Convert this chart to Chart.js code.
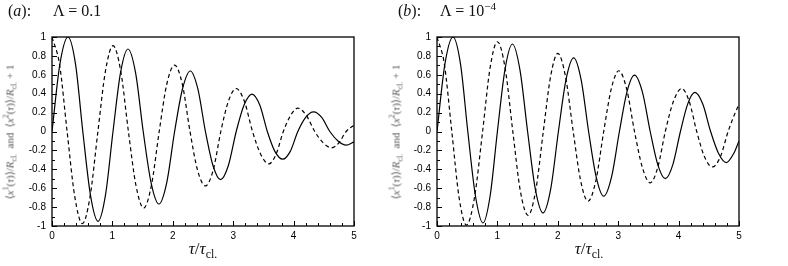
<!DOCTYPE html>
<html>
<head>
<meta charset="utf-8">
<script src="https://cdn.jsdelivr.net/npm/chart.js@4.4.1/dist/chart.umd.min.js"></script>
<style>
body { margin: 0; background: #fff; width: 788px; height: 266px; position: relative; overflow: hidden; font-family: "Liberation Serif", "Times New Roman", serif; color: #111; }
canvas { position: absolute; top: 0; }
.txt { position: absolute; white-space: nowrap; line-height: 1; }
.ttl { top: 3px; font-size: 16px; }
.xt { top: 240px; font-size: 17px; transform: translateX(-50%); }
.yt { font-size: 11px; color: #555; transform: translate(-50%, -50%) rotate(-90deg); }
sub, sup { font-size: 70%; line-height: 0; }
</style>
</head>
<body>
<canvas id="chartA" width="394" height="266" style="left:0px"></canvas>
<canvas id="chartB" width="394" height="266" style="left:385px"></canvas>

<div class="txt ttl" style="left:8px">(<i>a</i>):</div>
<div class="txt ttl" style="left:53px">Λ = 0.1</div>
<div class="txt ttl" style="left:398px">(<i>b</i>):</div>
<div class="txt ttl" style="left:440px">Λ = 10<sup>−4</sup></div>

<div class="txt xt" style="left:203px"><i>τ</i>/<i>τ</i><sub>cl.</sub></div>
<div class="txt xt" style="left:589px"><i>τ</i>/<i>τ</i><sub>cl.</sub></div>

<div class="txt yt" style="left:10px; top:132px">⟨<i>x</i><sup>1</sup>(<i>τ</i>)⟩/<i>R</i><sub>cl.</sub>&nbsp; and&nbsp; ⟨<i>x</i><sup>2</sup>(<i>τ</i>)⟩/<i>R</i><sub>cl.</sub> + 1</div>
<div class="txt yt" style="left:396px; top:132px">⟨<i>x</i><sup>1</sup>(<i>τ</i>)⟩/<i>R</i><sub>cl.</sub>&nbsp; and&nbsp; ⟨<i>x</i><sup>2</sup>(<i>τ</i>)⟩/<i>R</i><sub>cl.</sub> + 1</div>

<script>
// values: extrema, zero crossings and the points half way between

// panel (a), Lambda = 0.1
var tauSolidA = [0, 0.13, 0.265, 0.39, 0.51, 0.636, 0.762, 0.886, 1.01, 1.134, 1.258, 1.384, 1.51, 1.64, 1.77, 1.9, 2.03, 2.16, 2.29, 2.415, 2.54, 2.665, 2.79, 2.92, 3.05, 3.18, 3.31, 3.44, 3.565, 3.69, 3.82, 3.945, 4.07, 4.2, 4.33, 4.465, 4.6, 4.735, 4.87, 5];
var solidA    = [0, 0.71, 1, 0.71, 0, -0.67, -0.95, -0.67, 0, 0.62, 0.873, 0.62, 0, -0.54, -0.767, -0.54, 0, 0.45, 0.64, 0.45, 0, -0.36, -0.51, -0.36, 0, 0.28, 0.396, 0.28, 0, -0.21, -0.293, -0.21, 0, 0.15, 0.208, 0.15, 0, -0.1, -0.145, -0.11];
var tauDashA  = [0, 0.125, 0.25, 0.377, 0.503, 0.63, 0.76, 0.885, 1.01, 1.138, 1.265, 1.39, 1.518, 1.646, 1.775, 1.9, 2.03, 2.158, 2.285, 2.41, 2.54, 2.668, 2.795, 2.92, 3.05, 3.185, 3.32, 3.455, 3.59, 3.71, 3.83, 3.95, 4.07, 4.21, 4.35, 4.49, 4.63, 4.75, 4.87, 5];
var dashA     = [1, 0.71, 0, -0.69, -0.975, -0.69, 0, 0.64, 0.908, 0.64, 0, -0.57, -0.81, -0.57, 0, 0.5, 0.703, 0.5, 0, -0.41, -0.576, -0.41, 0, 0.32, 0.455, 0.32, 0, -0.24, -0.343, -0.24, 0, 0.17, 0.247, 0.17, 0, -0.12, -0.173, -0.12, 0, 0.067];

// panel (b), Lambda = 1e-4
var tauSolidB = [0, 0.13, 0.265, 0.39, 0.51, 0.636, 0.762, 0.88, 1.0, 1.124, 1.248, 1.374, 1.5, 1.628, 1.755, 1.882, 2.01, 2.136, 2.263, 2.386, 2.51, 2.635, 2.76, 2.89, 3.02, 3.145, 3.27, 3.4, 3.53, 3.655, 3.78, 3.905, 4.03, 4.15, 4.27, 4.4, 4.53, 4.66, 4.79, 4.915, 5];
var solidB    = [0, 0.71, 1, 0.71, 0, -0.68, -0.968, -0.68, 0, 0.65, 0.926, 0.65, 0, -0.61, -0.862, -0.61, 0, 0.55, 0.78, 0.55, 0, -0.48, -0.685, -0.48, 0, 0.42, 0.597, 0.42, 0, -0.35, -0.499, -0.35, 0, 0.29, 0.413, 0.29, 0, -0.23, -0.329, -0.23, -0.1];
var tauDashB  = [0, 0.12, 0.245, 0.366, 0.487, 0.62, 0.755, 0.878, 1.0, 1.128, 1.255, 1.38, 1.507, 1.633, 1.76, 1.88, 2.0, 2.128, 2.255, 2.378, 2.5, 2.63, 2.76, 2.885, 3.01, 3.14, 3.27, 3.4, 3.53, 3.655, 3.78, 3.915, 4.05, 4.175, 4.3, 4.43, 4.56, 4.69, 4.82, 4.945, 5];
var dashB     = [1, 0.72, 0, -0.7, -0.99, -0.7, 0, 0.67, 0.95, 0.67, 0, -0.63, -0.887, -0.63, 0, 0.58, 0.826, 0.58, 0, -0.52, -0.738, -0.52, 0, 0.45, 0.643, 0.45, 0, -0.38, -0.544, -0.38, 0, 0.32, 0.455, 0.32, 0, -0.27, -0.375, -0.27, 0, 0.21, 0.286];

// axes
var xMin = 0, xMax = 5, xStep = 1, xMinorStep = 0.2;
var yMin = -1, yMax = 1, yStep = 0.2, yMinorStep = 0.1;

Chart.defaults.font.family = '"Liberation Sans", Arial, sans-serif';
Chart.defaults.font.size = 10;
Chart.defaults.color = '#000';

function pairs(xs, ys) {
    return xs.map(function (x, i) { return { x: x, y: ys[i] }; });
}

// box around the plot and inward tick marks, placed through the scales
var frameTicks = {
    id: 'frameTicks',
    afterDraw: function (chart) {
        var ctx = chart.ctx, a = chart.chartArea;
        var sx = chart.scales.x, sy = chart.scales.y;
        ctx.save();
        ctx.strokeStyle = '#000';
        ctx.lineWidth = 1;
        ctx.beginPath();
        var nx = Math.round((xMax - xMin) / xMinorStep);
        for (var i = 0; i <= nx; i++) {
            var px = Math.round(sx.getPixelForValue(xMin + i * xMinorStep)) + 0.5;
            var lx = (i % Math.round(xStep / xMinorStep) === 0) ? 5 : 3;
            ctx.moveTo(px, a.bottom);
            ctx.lineTo(px, a.bottom - lx);
        }
        var ny = Math.round((yMax - yMin) / yMinorStep);
        for (var j = 0; j <= ny; j++) {
            var py = Math.round(sy.getPixelForValue(yMin + j * yMinorStep)) + 0.5;
            var ly = (j % Math.round(yStep / yMinorStep) === 0) ? 5 : 3;
            ctx.moveTo(a.left, py);
            ctx.lineTo(a.left + ly, py);
        }
        ctx.stroke();
        ctx.lineWidth = 1.3;
        ctx.strokeRect(a.left, a.top, a.right - a.left, a.bottom - a.top);
        ctx.restore();
    }
};

function grafico(id, tauS, solid, tauD, dashed) {
    var ctx = document.getElementById(id).getContext('2d');
    return new Chart(ctx, {
        type: 'line',
        data: {
            datasets: [{
                data: pairs(tauS, solid),
                borderColor: '#000',
                borderWidth: 1.2,
                pointRadius: 0,
                cubicInterpolationMode: 'monotone'
            }, {
                data: pairs(tauD, dashed),
                borderColor: '#000',
                borderWidth: 1.2,
                borderDash: [4, 3],
                pointRadius: 0,
                cubicInterpolationMode: 'monotone'
            }]
        },
        options: {
            responsive: false,
            animation: false,
            layout: { padding: { top: 37, right: 40, left: 0, bottom: 0 } },
            plugins: { legend: { display: false }, tooltip: { enabled: false } },
            scales: {
                x: {
                    type: 'linear',
                    min: xMin, max: xMax,
                    grid: { display: false, drawTicks: false },
                    border: { display: false },
                    ticks: { stepSize: xStep, padding: 4, maxRotation: 0 },
                    afterFit: function (s) { s.height = 40; }
                },
                y: {
                    min: yMin, max: yMax,
                    grid: { display: false, drawTicks: false },
                    border: { display: false },
                    ticks: {
                        stepSize: yStep, padding: 6,
                        callback: function (v) { return String(Math.round(v * 10) / 10); }
                    },
                    afterFit: function (s) { s.width = 52; }
                }
            }
        },
        plugins: [frameTicks]
    });
}

grafico('chartA', tauSolidA, solidA, tauDashA, dashA);
grafico('chartB', tauSolidB, solidB, tauDashB, dashB);
</script>
</body>
</html>
